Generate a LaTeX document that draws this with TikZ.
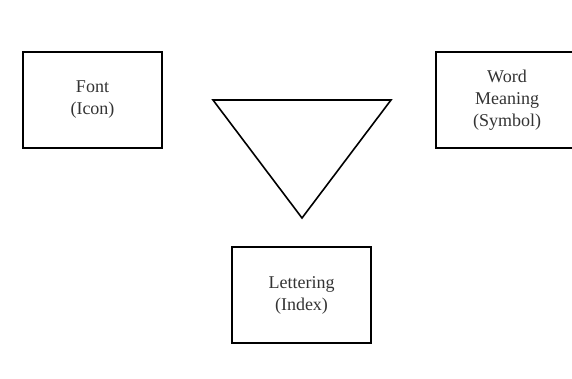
\documentclass[tikz,border=0pt]{standalone}
\usepackage{fontspec}
\setmainfont{Liberation Serif}
\begin{document}
\begin{tikzpicture}[x=1pt,y=-1pt,line join=miter,font=\fontsize{18}{22}\selectfont,
box/.style={draw,line width=1.6pt,minimum width=139pt,minimum height=96pt,align=center,inner sep=0pt,text=black!80}]
\useasboundingbox (0,0) rectangle (572,378);
\clip (0,0) rectangle (572,378);
\path
(92.5,100) node[box] (font) {Font\\(Icon)}
(507,100) node[box,minimum width=142pt] (meaning) {Word\\Meaning\\(Symbol)}
(301.5,295) node[box] (lettering) {Lettering\\(Index)}
(213,100) coordinate (L)
(391,100) coordinate (R)
(302,218) coordinate (B)
;
\draw[line width=1.6pt] (L)--(R)--(B)--cycle;
\end{tikzpicture}
\end{document}
